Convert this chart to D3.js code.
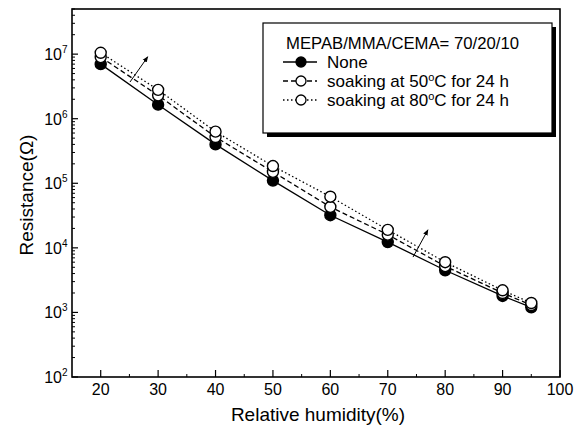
<!DOCTYPE html>
<html>
<head>
<meta charset="utf-8">
<script src="https://cdn.jsdelivr.net/npm/d3@7"></script>
<style>
body { margin: 0; background: #fff; }
svg text { font-family: "Liberation Sans", Arial, sans-serif; fill: #000; }
</style>
</head>
<body>
<svg class="chart"></svg>
<script>
// relative humidity (%)
var humidity = [20, 30, 40, 50, 60, 70, 80, 90, 95];
// resistance (ohm)
var noneValues = [7.0e6, 1.65e6, 4.0e5, 1.1e5, 3.2e4, 1.23e4, 4.5e3, 1.8e3, 1.2e3];
var soak50Values = [9.0e6, 2.3e6, 5.2e5, 1.5e5, 4.3e4, 1.6e4, 5.2e3, 2.0e3, 1.3e3];
var soak80Values = [1.05e7, 2.8e6, 6.3e5, 1.85e5, 6.2e4, 1.9e4, 6.0e3, 2.2e3, 1.4e3];
// legend names: [before superscript, superscript, after]
var seriesNames = [['None', '', ''], ['soaking at 50', 'o', 'C for 24 h'], ['soaking at 80', 'o', 'C for 24 h']];
var legendTitle = 'MEPAB/MMA/CEMA= 70/20/10';
var xTicks = [20, 30, 40, 50, 60, 70, 80, 90, 100];
var yExponents = [2, 3, 4, 5, 6, 7];
// arrows: [x0, y0, x1, y1] in data units
var arrows = [[25.1, 3.7e6, 28.2, 9.1e6], [74.4, 7.2e3, 77.0, 1.9e4]];

var chart = {
	initialize: function(){
		var self = this;
		self._render_view();
		return self;
	},
	_render_view: function(){
		var width = 588, height = 434;
		var left = 72, right = 560, top = 9, bottom = 377;

		var svg = d3.select('svg.chart')
			.attr('width', width)
			.attr('height', height);

		var x = d3.scaleLinear().domain([15, 100]).range([left, right]);
		var y = d3.scaleLog().domain([1e2, 5e7]).range([bottom, top]);

		// minor ticks on y
		var minorY = [];
		for (var e = 2; e <= 7; e++) {
			for (var m = 2; m <= 9; m++) {
				if (m * Math.pow(10, e) <= 5e7) minorY.push(m * Math.pow(10, e));
			}
		}
		svg.append('g').selectAll('line.minor-y')
			.data(minorY).enter()
			.append('line')
			.attr('x1', left).attr('x2', left + 3)
			.attr('y1', function(d){ return y(d); })
			.attr('y2', function(d){ return y(d); })
			.attr('stroke', '#000').attr('stroke-width', 1);
		svg.append('g').selectAll('line.major-y')
			.data(yExponents).enter()
			.append('line')
			.attr('x1', left).attr('x2', left + 6)
			.attr('y1', function(d){ return y(Math.pow(10, d)); })
			.attr('y2', function(d){ return y(Math.pow(10, d)); })
			.attr('stroke', '#000').attr('stroke-width', 1.2);

		var yLabels = svg.append('g').selectAll('text')
			.data(yExponents).enter()
			.append('text')
			.attr('x', 62)
			.attr('y', function(d){ return y(Math.pow(10, d)) + 6; })
			.attr('text-anchor', 'end')
			.style('font-size', '16px')
			.text('10');
		yLabels.append('tspan')
			.attr('x', 62).attr('dy', -7)
			.attr('text-anchor', 'start')
			.style('font-size', '10px')
			.text(function(d){ return d; });

		// x ticks
		var minorX = [25, 35, 45, 55, 65, 75, 85, 95];
		svg.append('g').selectAll('line')
			.data(minorX).enter()
			.append('line')
			.attr('x1', function(d){ return x(d); })
			.attr('x2', function(d){ return x(d); })
			.attr('y1', bottom).attr('y2', bottom - 3)
			.attr('stroke', '#000').attr('stroke-width', 1);
		svg.append('g').selectAll('line')
			.data(xTicks).enter()
			.append('line')
			.attr('x1', function(d){ return x(d); })
			.attr('x2', function(d){ return x(d); })
			.attr('y1', bottom).attr('y2', bottom - 7)
			.attr('stroke', '#000').attr('stroke-width', 1.2);
		svg.append('g').selectAll('text')
			.data(xTicks).enter()
			.append('text')
			.attr('x', function(d){ return x(d); })
			.attr('y', 395)
			.attr('text-anchor', 'middle')
			.style('font-size', '16px')
			.text(function(d){ return d; });

		// frame
		svg.append('rect')
			.attr('x', left).attr('y', top)
			.attr('width', right - left).attr('height', bottom - top)
			.attr('fill', 'none').attr('stroke', '#000').attr('stroke-width', 1.6);

		// axis titles
		svg.append('text')
			.attr('x', 318).attr('y', 421)
			.attr('text-anchor', 'middle')
			.style('font-size', '19px')
			.text('Relative humidity(%)');
		svg.append('text')
			.attr('transform', 'translate(33,' + 195 + ') rotate(-90)')
			.attr('text-anchor', 'middle')
			.style('font-size', '19px')
			.text('Resistance(\u03A9)');

		// series
		var series = [
			{ values: noneValues, dash: null, fill: '#000' },
			{ values: soak50Values, dash: '5,3', fill: '#fff' },
			{ values: soak80Values, dash: '1.5,2.5', fill: '#fff' }
		];
		var line = d3.line()
			.x(function(d){ return x(d[0]); })
			.y(function(d){ return y(d[1]); });
		series.forEach(function(s){
			svg.append('path')
				.datum(d3.zip(humidity, s.values))
				.attr('d', line)
				.attr('fill', 'none')
				.attr('stroke', '#000')
				.attr('stroke-width', 1.3)
				.attr('stroke-dasharray', s.dash);
		});
		series.forEach(function(s){
			svg.append('g').selectAll('circle')
				.data(d3.zip(humidity, s.values)).enter()
				.append('circle')
				.attr('cx', function(d){ return x(d[0]); })
				.attr('cy', function(d){ return y(d[1]); })
				.attr('r', 5.5)
				.attr('fill', s.fill)
				.attr('stroke', '#000')
				.attr('stroke-width', 1.4);
		});

		// arrows
		svg.append('defs').append('marker')
			.attr('id', 'arrowhead')
			.attr('viewBox', '0 0 10 10')
			.attr('refX', 9).attr('refY', 5)
			.attr('markerWidth', 6).attr('markerHeight', 6)
			.attr('orient', 'auto')
			.append('path')
			.attr('d', 'M0,1 L10,5 L0,9 Z')
			.attr('fill', '#000');
		svg.append('g').selectAll('line')
			.data(arrows).enter()
			.append('line')
			.attr('x1', function(d){ return x(d[0]); })
			.attr('y1', function(d){ return y(d[1]); })
			.attr('x2', function(d){ return x(d[2]); })
			.attr('y2', function(d){ return y(d[3]); })
			.attr('stroke', '#000').attr('stroke-width', 1)
			.attr('marker-end', 'url(#arrowhead)');

		// legend
		var lg = svg.append('g').attr('transform', 'translate(263,23)');
		lg.append('rect')
			.attr('x', 4).attr('y', 4).attr('width', 289).attr('height', 110)
			.attr('fill', '#000');
		lg.append('rect')
			.attr('x', 0).attr('y', 0).attr('width', 289).attr('height', 110)
			.attr('fill', '#fff').attr('stroke', '#000').attr('stroke-width', 1.2);
		lg.append('text')
			.attr('x', 23).attr('y', 26)
			.style('font-size', '16.7px')
			.text(legendTitle);
		var rows = lg.selectAll('g.row')
			.data(series).enter()
			.append('g')
			.attr('transform', function(d, i){ return 'translate(0,' + (39 + i * 19) + ')'; });
		rows.append('line')
			.attr('x1', 20).attr('x2', 54)
			.attr('y1', 0).attr('y2', 0)
			.attr('stroke', '#000').attr('stroke-width', 1.3)
			.attr('stroke-dasharray', function(d){ return d.dash; });
		rows.append('circle')
			.attr('cx', 38).attr('cy', 0).attr('r', 5)
			.attr('fill', function(d){ return d.fill; })
			.attr('stroke', '#000').attr('stroke-width', 1.3);
		var rowText = rows.append('text')
			.attr('x', 64).attr('y', 6)
			.style('font-size', '17px');
		rowText.append('tspan').text(function(d, i){ return seriesNames[i][0]; });
		rowText.append('tspan')
			.attr('dy', -6)
			.style('font-size', '11px')
			.text(function(d, i){ return seriesNames[i][1]; });
		rowText.append('tspan')
			.attr('dy', 6)
			.text(function(d, i){ return seriesNames[i][2]; });
	}
};

chart.initialize();
</script>
</body>
</html>
